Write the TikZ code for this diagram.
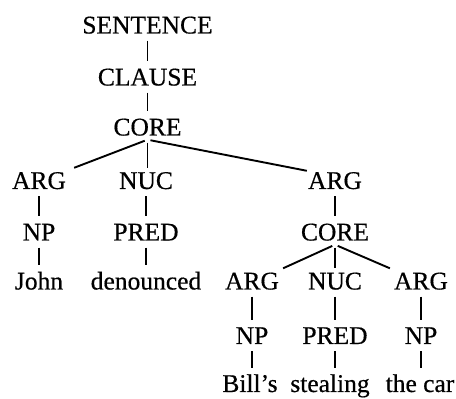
\documentclass[tikz,border=0pt]{standalone}
\usepackage{fontspec}
\setmainfont{Liberation Serif}[FakeBold=0.5]
\begin{document}
\begin{tikzpicture}[x=1pt,y=1pt,
  lab/.style={anchor=base, inner xsep=4pt, inner ysep=4pt, text height=17pt, text depth=0pt,
              font=\fontsize{25.5}{30}\selectfont},
  edge/.style={line width=1.9pt, shorten <=3pt, shorten >=3pt},
  branch/.style={line width=1.9pt, shorten <=3pt}]
\useasboundingbox (0,0) rectangle (456,399);
% top spine
\node[lab] (s)  at (147.5,365.5) {SENTENCE};
\node[lab] (cl) at (147.5,313.5) {CLAUSE};
\node[lab] (co) at (147.5,263.5) {CORE};
% second level
\node[lab] (a1) at (39,210)   {ARG};
\node[lab] (n1) at (146,210)  {NUC};
\node[lab] (a2) at (335,210)  {ARG};
\node[lab] (np1) at (39,158.5) {NP};
\node[lab] (p1) at (146,158.5) {PRED};
\node[lab] (co2) at (335,158.5) {CORE};
\node[lab] (w1) at (39,109.5)  {John};
\node[lab] (w2) at (146,109.5) {denounced};
% third level
\node[lab] (a3) at (252,109.5) {ARG};
\node[lab] (n3) at (335,109.5) {NUC};
\node[lab] (a4) at (421,109.5) {ARG};
\node[lab] (np3) at (252,55) {NP};
\node[lab] (p3) at (335,55)  {PRED};
\node[lab] (np4) at (421,55) {NP};
\node[lab] (w3) at (250,7) {Bill’s};
\node[lab] (w4) at (330,7) {stealing};
\node[lab] (w5) at (420,7) {the car};
% spine edges
\draw[edge] (s) -- (cl);
\draw[edge] (cl) -- (co);
% branches of CORE
\draw[branch] (co.south) -- ([xshift=4pt]a1.north east);
\draw[branch] (co.south) -- (co.south |- n1.north);
\draw[branch] (co.south) -- ([shift={(3pt,-3pt)}]a2.north west);
\draw[edge] (a1) -- (np1);
\draw[edge] (np1) -- (w1);
\draw[edge] (n1) -- (p1);
\draw[edge] (p1) -- (p1.south |- w2.north);
\draw[edge] (a2) -- (co2);
% branches of embedded CORE
\draw[branch] (co2.south) -- (a3.north east);
\draw[branch] (co2.south) -- (n3.north);
\draw[branch] (co2.south) -- (a4.north west);
\draw[edge] (a3) -- (np3);
\draw[edge] (np3.south) -- (np3.south |- w3.north);
\draw[edge] (n3) -- (p3);
\draw[edge] (p3.south) -- (p3.south |- w4.north);
\draw[edge] (a4) -- (np4);
\draw[edge] (np4.south) -- (np4.south |- w5.north);
\end{tikzpicture}
\end{document}
